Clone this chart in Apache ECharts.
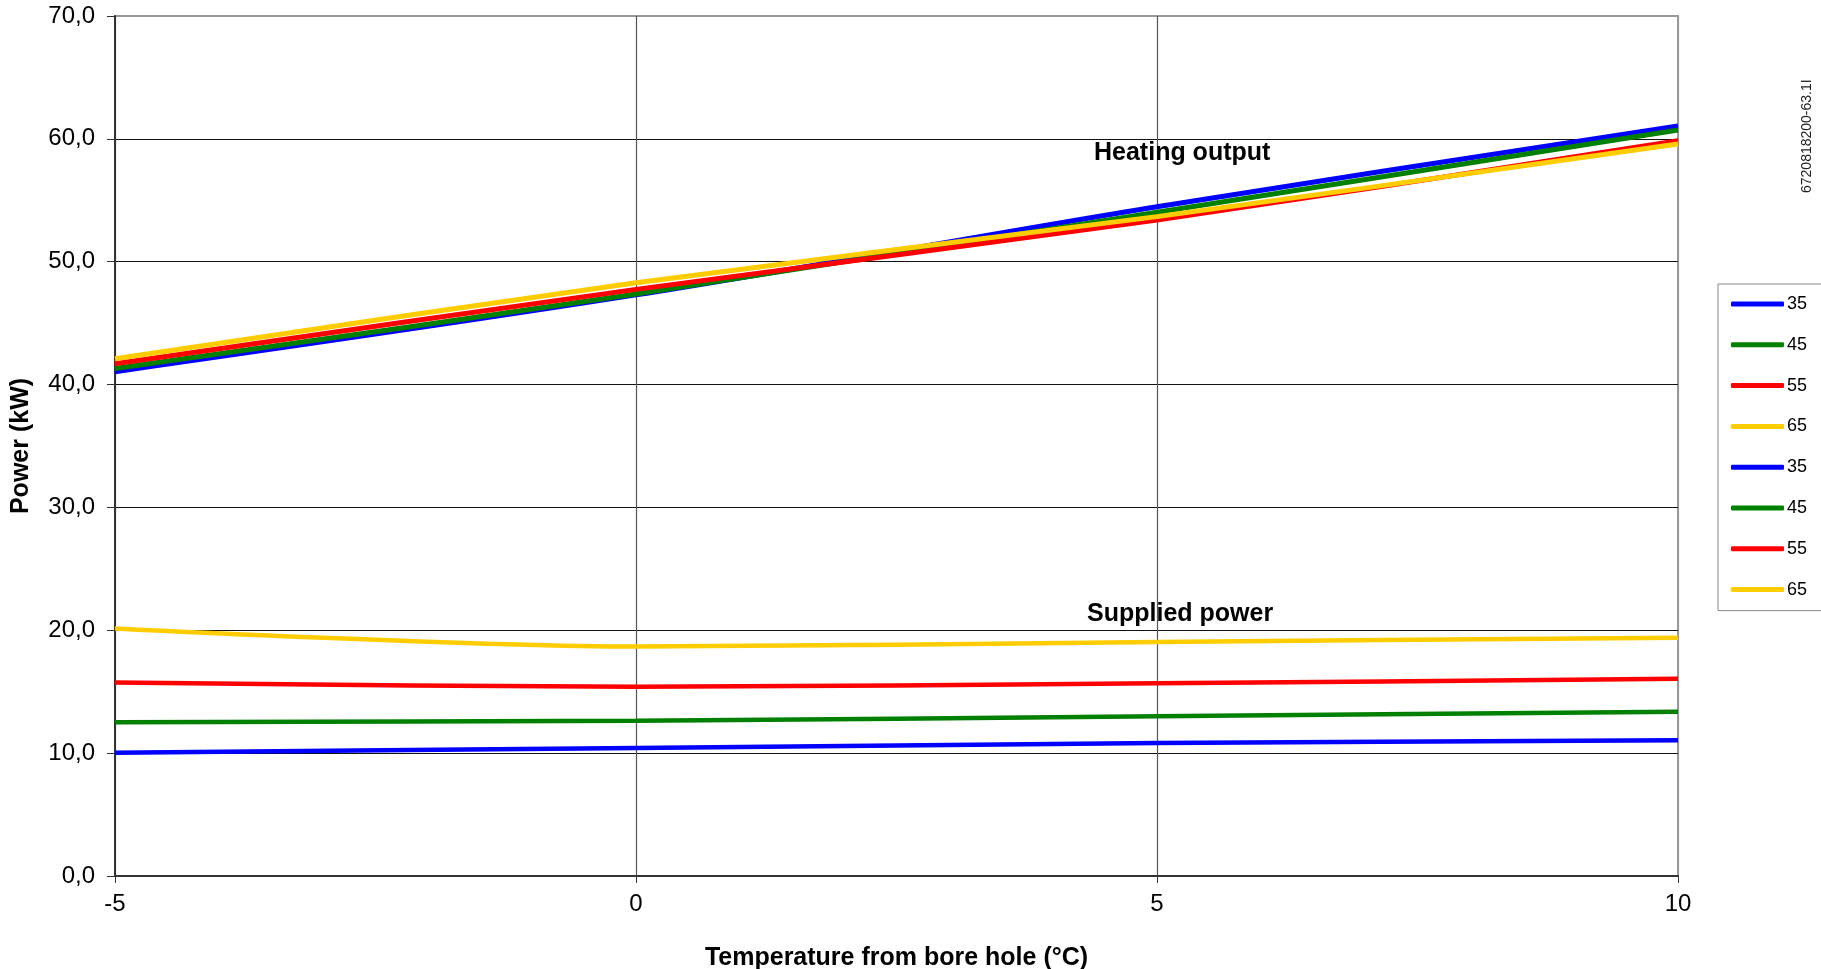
<!DOCTYPE html>
<html>
<head>
<meta charset="utf-8">
<script src="https://cdn.jsdelivr.net/npm/echarts@6/dist/echarts.min.js"></script>
<style>
html,body{margin:0;padding:0;background:#fff;}
#chart{width:1821px;height:969px;}
</style>
</head>
<body>
<div id="chart"></div>
<script>
// Data
const temps = [-5, 0, 5, 10];
const flowTemps = ['35', '45', '55', '65'];
const heating35 = [41.05, 47.3, 54.48, 61.04];
const heating45 = [41.3, 47.37, 54.02, 60.72];
const heating55 = [41.7, 47.75, 53.39, 59.85];
const heating65 = [42.1, 48.29, 53.67, 59.58];
const supplied35 = [10.04, 10.41, 10.82, 11.05];
const supplied45 = [12.51, 12.64, 13.0, 13.36];
const supplied55 = [15.74, 15.4, 15.68, 16.06];
const supplied65 = [20.15, 18.68, 19.05, 19.4];
const yTicks = [0, 10, 20, 30, 40, 50, 60, 70];
const xTicks = [-5, 0, 5, 10];

const colors = ['#0000FF', '#008000', '#FF0000', '#FFCC00'];
const heating = [heating35, heating45, heating55, heating65];
const supplied = [supplied35, supplied45, supplied55, supplied65];
const FONT = "'Liberation Sans', Arial, sans-serif";

const series = [];
heating.forEach((arr, i) => {
  series.push({
    name: flowTemps[i],
    type: 'line',
    smooth: 0.3,
    showSymbol: false,
    symbol: 'none',
    data: temps.map((t, k) => [t, arr[k]]),
    lineStyle: { color: colors[i], width: 5 },
    itemStyle: { color: colors[i] },
    z: 3
  });
});
supplied.forEach((arr, i) => {
  series.push({
    name: flowTemps[i] + ' ',
    type: 'line',
    smooth: 0.3,
    showSymbol: false,
    symbol: 'none',
    data: temps.map((t, k) => [t, arr[k]]),
    lineStyle: { color: colors[i], width: 4.5 },
    itemStyle: { color: colors[i] },
    z: 3
  });
});

const chart = echarts.init(document.getElementById('chart'), null, { renderer: 'canvas' });
chart.setOption({
  animation: false,
  backgroundColor: '#fff',
  textStyle: { fontFamily: FONT },
  grid: {
    left: 115, right: 143, top: 16, bottom: 93,
    containLabel: false,
    outerBoundsMode: 'none',
    show: true, borderColor: '#999', borderWidth: 2, backgroundColor: '#fff'
  },
  legend: {
    orient: 'vertical',
    left: 1718,
    top: 284,
    padding: [11, 40, 12, 13],
    borderColor: '#888',
    borderWidth: 1,
    backgroundColor: '#fff',
    icon: 'roundRect',
    itemWidth: 53,
    itemHeight: 5,
    itemGap: 22.8,
    selectedMode: false,
    textStyle: { fontSize: 18, color: '#000', fontFamily: FONT, lineHeight: 17, padding: [0, 0, 0, -2] },
    formatter: n => n.trim(),
    data: series.map(s => s.name)
  },
  xAxis: {
    type: 'value',
    min: xTicks[0],
    max: xTicks[xTicks.length - 1],
    interval: 5,
    name: 'Temperature from bore hole (°C)',
    nameLocation: 'middle',
    nameGap: 70,
    nameTextStyle: { fontSize: 25, fontWeight: 'bold', color: '#000', fontFamily: FONT },
    axisLine: { show: true, onZero: false, lineStyle: { color: '#333', width: 2 } },
    axisTick: { show: true, length: 7, lineStyle: { color: '#333', width: 1 } },
    axisLabel: { fontSize: 24, color: '#000', margin: 16, fontFamily: FONT },
    splitLine: { show: true, lineStyle: { color: ['#555', '#555', '#555', '#999'], width: 1.2 } }
  },
  yAxis: {
    type: 'value',
    min: yTicks[0],
    max: yTicks[yTicks.length - 1],
    interval: 10,
    name: 'Power (kW)',
    nameLocation: 'middle',
    nameGap: 81,
    nameTextStyle: { fontSize: 25, fontWeight: 'bold', color: '#000', fontFamily: FONT },
    axisLine: { show: true, onZero: false, lineStyle: { color: '#333', width: 2 } },
    axisTick: { show: true, length: 8, lineStyle: { color: '#333', width: 1 } },
    axisLabel: { fontSize: 24, color: '#000', margin: 20, fontFamily: FONT,
      formatter: v => v.toFixed(1).replace('.', ',') },
    splitLine: { show: true, lineStyle: { color: ['#111','#111','#111','#111','#111','#111','#111','#999'], width: 1.2 } }
  },
  graphic: [
    { type: 'text', left: 1184 - 90, top: 141, z: 10,
      style: { text: 'Heating output', font: "bold 25px 'Liberation Sans', Arial", fill: '#000' } },
    { type: 'text', left: 1182 - 95, top: 602, z: 10,
      style: { text: 'Supplied power', font: "bold 25px 'Liberation Sans', Arial", fill: '#000' } },
    { type: 'text', x: 1800, y: 193, rotation: Math.PI / 2, z: 10,
      style: { text: '6720818200-63.1I', font: "14px 'Liberation Sans', Arial", fill: '#222' } }
  ],
  series: series
});
</script>
</body>
</html>
